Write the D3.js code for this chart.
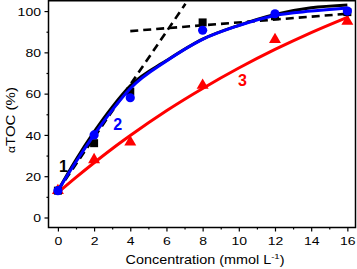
<!DOCTYPE html>
<html><head><meta charset="utf-8">
<script src="https://cdn.jsdelivr.net/npm/d3@7"></script>
<style>body{margin:0;background:#fff}svg{display:block}text{font-family:"Liberation Sans",Arial,sans-serif}</style>
</head><body><svg id="c" width="357" height="269"></svg>
<script>
// measured points
const conc = [0, 2, 4, 8, 12, 16];
const series1 = [13, 36, 61, 94.5, 97.5, 99.5];   // black squares
const series2 = [13, 40, 58, 90.7, 98.7, 100];    // blue circles
const series3 = [13, 28, 36.5, 64, 86.2, 95];     // red triangles
// fitted curves
const fitX = [0, 1, 2, 3, 4, 6, 8, 10, 12, 14, 16];
const fit1 = [13, 28, 41.5, 53.5, 63.8, 76, 86.4, 93.1, 98.4, 101.6, 103];
const fit2 = [13, 27, 40, 52, 62.5, 75.8, 86.3, 93, 97.9, 100, 101.5];
const fit3 = [12, 19.4, 26.5, 33.3, 39.7, 51.7, 62.5, 72.4, 81.4, 89.6, 97];
// dashed linear segments
const dashA = [[0, 13], [7.05, 103.5]];
const dashB = [[4, 90.3], [16, 98.7]];
const xTicks = [0, 2, 4, 6, 8, 10, 12, 14, 16];
const yTicks = [0, 20, 40, 60, 80, 100];
const labels = [{t: "1", x: 0.3, y: 25, c: "#000"}, {t: "2", x: 3.3, y: 45, c: "#0000ff"}, {t: "3", x: 10.2, y: 66.5, c: "#ff0000"}];

const svg = d3.select("#c");
const L = 48.5, R = 355.5, T = 0.75, B = 227.5;
const x = d3.scaleLinear().domain([-0.52, 16.45]).range([L, R]);
const y = d3.scaleLinear().domain([-4.85, 105]).range([B, T]);

// frame
svg.append("rect").attr("x", L).attr("y", T).attr("width", R - L).attr("height", B - T)
  .attr("fill", "none").attr("stroke", "#000").attr("stroke-width", 1.5);

// axes
const xMinor = d3.range(0, 17, 1).filter(v => v % 2);
const yMinor = d3.range(10, 101, 20);
const gx = svg.append("g").attr("transform", `translate(0,${B})`);
gx.call(d3.axisBottom(x).tickValues(xTicks).tickSize(4).tickPadding(3));
gx.append("g").call(d3.axisBottom(x).tickValues(xMinor).tickSize(2).tickFormat(""));
const gy = svg.append("g").attr("transform", `translate(${L},0)`);
gy.call(d3.axisLeft(y).tickValues(yTicks).tickSize(4));
gy.append("g").call(d3.axisLeft(y).tickValues(yMinor).tickSize(2).tickFormat(""));
svg.selectAll(".domain").remove();
svg.selectAll(".tick line").attr("stroke", "#000").attr("stroke-width", 1.2);
gx.selectAll(".tick text").attr("font-size", 11.5).attr("fill", "#000")
  .attr("y", 0).attr("dy", 0).attr("transform", "translate(0,17.8) scale(1.22,1)");
gy.selectAll(".tick text").attr("font-size", 11.5).attr("fill", "#000")
  .attr("x", 0).attr("dy", "0.36em").attr("text-anchor", "end").attr("transform", "translate(-7.5,0) scale(1.22,1)");

// axis titles
const xt = svg.append("text").attr("text-anchor", "middle").attr("font-size", 12)
  .attr("transform", `translate(${(L + R) / 2 + 3},264) scale(1.2,1)`);
xt.append("tspan").text("Concentration (mmol L");
xt.append("tspan").attr("font-size", 8).attr("dy", -5).text("-1");
xt.append("tspan").attr("dy", 5).text(")");
const yt = svg.append("text").attr("text-anchor", "middle").attr("font-size", 12.5)
  .attr("transform", `translate(15,120) rotate(-90) scale(1.2,1)`);
yt.append("tspan").attr("font-size", 10).text("α");
yt.append("tspan").text("TOC (%)");

const line = d3.line().x((d, i) => x(fitX[i])).y(d => y(d)).curve(d3.curveMonotoneX);
const seg = d3.line().x(d => x(d[0])).y(d => y(d[1]));

// red
svg.append("path").attr("d", line(fit3)).attr("fill", "none").attr("stroke", "#ff0000").attr("stroke-width", 3).attr("stroke-linecap", "round");
svg.selectAll(".tri").data(series3).join("path")
  .attr("d", d3.symbol(d3.symbolTriangle, 62)())
  .attr("transform", (d, i) => `translate(${x(conc[i])},${y(d)})`).attr("fill", "#ff0000");

// black
svg.selectAll(".sq").data(series1).join("rect")
  .attr("x", (d, i) => x(conc[i]) - 4).attr("y", d => y(d) - 4).attr("width", 8).attr("height", 8).attr("fill", "#000");
svg.append("path").attr("d", line(fit1)).attr("fill", "none").attr("stroke", "#000").attr("stroke-width", 3);
[dashA, dashB].forEach(s => svg.append("path").attr("d", seg(s)).attr("fill", "none")
  .attr("stroke", "#000").attr("stroke-width", 2.6).attr("stroke-dasharray", "8,5"));

// blue
svg.append("path").attr("d", line(fit2)).attr("fill", "none").attr("stroke", "#0000ff").attr("stroke-width", 3);
svg.selectAll(".ci").data(series2).join("circle")
  .attr("cx", (d, i) => x(conc[i])).attr("cy", d => y(d)).attr("r", 4.6).attr("fill", "#0000ff");

// labels
svg.selectAll(".lab").data(labels).join("text")
  .attr("x", d => x(d.x)).attr("y", d => y(d.y)).attr("dy", "0.36em").attr("text-anchor", "middle")
  .attr("font-size", 16).attr("font-weight", "bold").attr("fill", d => d.c).text(d => d.t);
</script></body></html>
